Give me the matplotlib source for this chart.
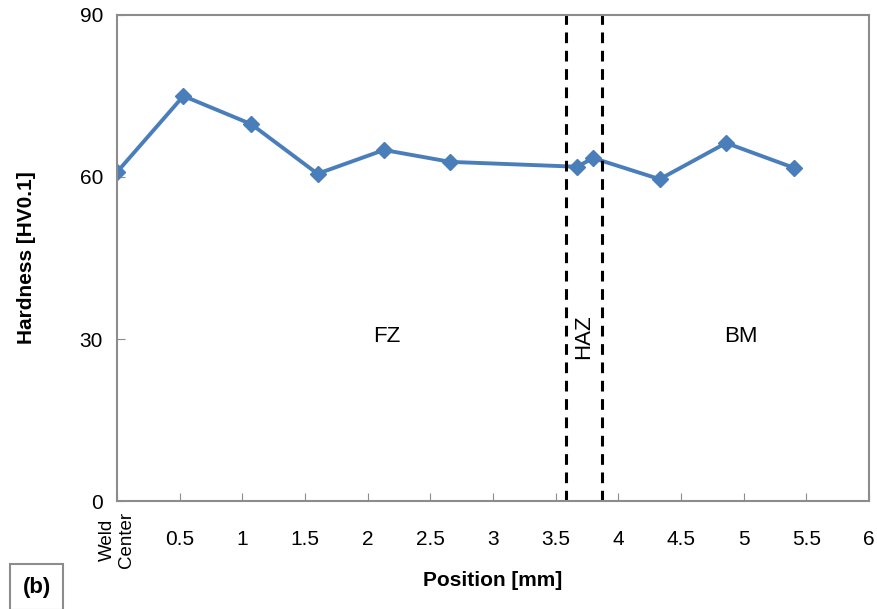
import matplotlib
matplotlib.use("Agg")
import matplotlib.pyplot as plt

plt.rcParams['font.family'] = ['Liberation Sans', 'DejaVu Sans']

# hardness profile across the weld
position = [0, 0.53, 1.07, 1.6, 2.13, 2.66, 3.67, 3.8, 4.33, 4.86, 5.4]
hardness = [60.9, 75.0, 69.8, 60.6, 65.0, 62.8, 61.9, 63.5, 59.6, 66.3, 61.7]

xticks = [0, 0.5, 1, 1.5, 2, 2.5, 3, 3.5, 4, 4.5, 5, 5.5, 6]
xticklabels = ['Weld\nCenter', '0.5', '1', '1.5', '2', '2.5', '3', '3.5', '4', '4.5', '5', '5.5', '6']
yticks = [0, 30, 60, 90]

haz_bounds = [3.58, 3.87]
zones = [('FZ', 2.15, 30.5, 0), ('HAZ', 3.725, 30.5, 90), ('BM', 4.98, 30.5, 0)]

fig = plt.figure(figsize=(8.77, 6.09), dpi=100)
ax = fig.add_axes([0.1334, 0.1773, 0.8575, 0.7981])

ax.plot(position, hardness, color='#4a7ebb', lw=2.8, marker='D', ms=8)

for xb in haz_bounds:
    ax.axvline(xb, color='black', ls=(0, (3.5, 2.5)), lw=2.2)

for name, x, y, rot in zones:
    ax.text(x, y, name, ha='center', va='center', rotation=rot, fontsize=16)

ax.set_xlim(0, 6)
ax.set_ylim(0, 90)
ax.set_xticks(xticks)
ax.set_xticklabels(xticklabels, fontsize=15)
for lab in ax.get_xticklabels():
    lab.set_va('center')
first = ax.get_xticklabels()[0]
first.set_rotation(90)
first.set_fontsize(13.5)
ax.set_yticks(yticks)
ax.tick_params(axis='y', labelsize=15, direction='in', length=6, color='#8c8c8c', pad=10)
ax.tick_params(axis='x', direction='in', length=6, color='#8c8c8c', pad=28)
for s in ax.spines.values():
    s.set_color('#8c8c8c')
    s.set_linewidth(1.5)

ax.set_xlabel('Position [mm]', fontsize=15, fontweight='bold')
ax.xaxis.set_label_coords(0.5, -0.1626)
ax.xaxis.label.set_va('center')
ax.set_ylabel('Hardness [HV0.1]', fontsize=15, fontweight='bold')
ax.yaxis.set_label_coords(-0.1197, 0.5)
ax.yaxis.label.set_va('center')

fig.text(0.042, 0.036, '(b)', fontsize=16, fontweight='bold', ha='center', va='center',
         bbox=dict(boxstyle='square,pad=0.55', fc='white', ec='#8c8c8c', lw=1.5))

fig.savefig('out.png', dpi=100)
